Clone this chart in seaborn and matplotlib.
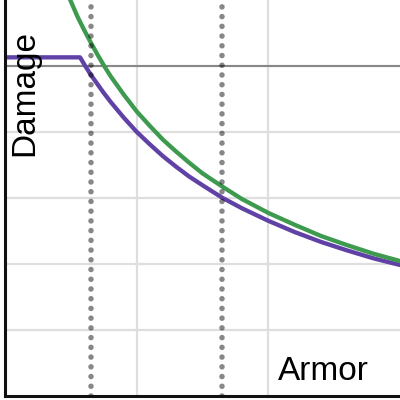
import matplotlib
matplotlib.use("Agg")
import matplotlib.pyplot as plt
import seaborn as sns
import pandas as pd

# values (arbitrary units, gridlines at whole numbers)
green_armor = [0.48, 0.50, 0.55, 0.60, 0.65, 0.70, 0.75, 0.80, 0.90, 1.00, 1.10, 1.20,
               1.30, 1.40, 1.50, 1.65, 1.80, 2.00, 2.20, 2.40, 2.60, 2.80, 3.00]
green_damage = [6.07, 5.98, 5.75, 5.55, 5.36, 5.18, 5.01, 4.85, 4.57, 4.31, 4.09, 3.88,
                3.70, 3.53, 3.37, 3.17, 2.98, 2.77, 2.59, 2.42, 2.28, 2.15, 2.04]

purple_armor = [0.0, 0.57, 0.60, 0.65, 0.70, 0.75, 0.80, 0.90, 1.00, 1.10, 1.20, 1.30,
                1.40, 1.50, 1.65, 1.80, 2.00, 2.20, 2.40, 2.60, 2.80, 3.00]
purple_damage = [5.13, 5.13, 5.03, 4.87, 4.73, 4.59, 4.46, 4.22, 4.00, 3.81, 3.63, 3.47,
                 3.32, 3.19, 3.00, 2.84, 2.65, 2.48, 2.33, 2.20, 2.08, 1.98]

cap_damage = 5
marker_armor = [0.653, 1.648]

green = pd.DataFrame({"Armor": green_armor, "Damage": green_damage})
purple = pd.DataFrame({"Armor": purple_armor, "Damage": purple_damage})

sns.set_style("white")
plt.rcParams['font.family'] = ['Liberation Sans', 'DejaVu Sans']

fig = plt.figure(figsize=(4, 4), dpi=100)
ax = fig.add_axes([5 / 400, 4.5 / 400, 395 / 400, 395.5 / 400])

ax.set_xlim(0, 3)
ax.set_ylim(0, 6)
ax.set_xticks([1, 2])
ax.set_yticks([1, 2, 3, 4, 5])
ax.grid(True, color="#dedede", linewidth=1.6)
ax.tick_params(length=0, labelleft=False, labelbottom=False)
ax.set_axisbelow(True)

ax.axhline(cap_damage, color="#888888", linewidth=1.5, zorder=1)

sns.lineplot(data=purple, x="Armor", y="Damage", color="#6042a6", linewidth=3.1,
             ax=ax, zorder=3, solid_capstyle="round", solid_joinstyle="round", sort=False)
sns.lineplot(data=green, x="Armor", y="Damage", color="#3d9a4e", linewidth=3.1,
             ax=ax, zorder=3, solid_capstyle="round", solid_joinstyle="round", sort=False)

for xv in marker_armor:
    ax.axvline(xv, color="black", alpha=0.47, linewidth=4.0,
               linestyle=(0, (0.001, 1.75)), dash_capstyle="round", zorder=4)

ax.set_xlabel("")
ax.set_ylabel("")

for side in ["top", "right"]:
    ax.spines[side].set_visible(False)
for side in ["left", "bottom"]:
    ax.spines[side].set_color("#111111")
    ax.spines[side].set_linewidth(2.2)
    ax.spines[side].set_zorder(5)

ax.annotate("Armor", xy=(278, 20), xycoords="figure pixels", ha="left",
            va="baseline", fontsize=24, color="black", zorder=6)
ax.annotate("Damage", xy=(25, 307), xycoords="figure pixels", ha="center",
            va="center", rotation=90, fontsize=24, color="black", zorder=6)

fig.savefig("out.png", dpi=100)
